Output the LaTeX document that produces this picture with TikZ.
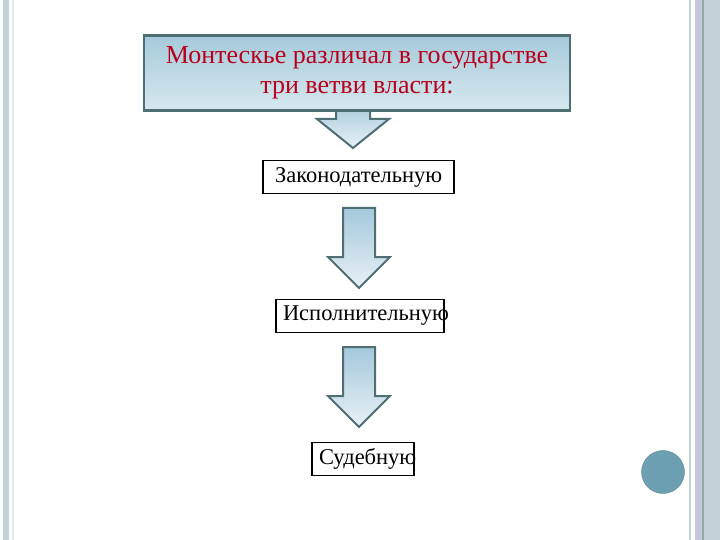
\documentclass[tikz,border=0pt]{standalone}
\usepackage{fontspec}
\setmainfont{Liberation Serif}
\usetikzlibrary{positioning, calc}

\definecolor{framegray}{HTML}{4F6F73}
\definecolor{boxtop}{HTML}{A6CADB}
\definecolor{boxbottom}{HTML}{D6E8EE}
\definecolor{arrowtop}{HTML}{A4C8DC}
\definecolor{arrowbottom}{HTML}{E8F1F5}
\definecolor{titlered}{HTML}{B8001C}
\definecolor{barblue}{HTML}{C2D2D8}
\definecolor{barlilac}{HTML}{C4CADA}
\definecolor{dotblue}{HTML}{6C9FB1}

% block arrow: centre x, top y, head y, tip y, shaft half, head half
\newcommand{\blockarrow}[6]{%
  \draw[downarrow] (#1-#5,#2) -- (#1+#5,#2) -- (#1+#5,#3) -- (#1+#6,#3)
    -- (#1,#4) -- (#1-#6,#3) -- (#1-#5,#3) -- cycle;}

\begin{document}
\begin{tikzpicture}[
      x=1pt, y=-1pt,
      title/.style={rectangle, draw=framegray, line width=2.5pt, top color=boxtop, bottom color=boxbottom,
        minimum width=426pt, minimum height=75pt, align=center, text=titlered,
        font=\fontsize{26}{30}\selectfont},
      branch/.style={rectangle, draw=black, line width=1.5pt, fill=white, inner sep=0pt,
        minimum height=33pt, align=left, font=\fontsize{22.5}{25}\selectfont},
      downarrow/.style={draw=framegray, line width=2pt, line join=miter, top color=arrowtop, bottom color=arrowbottom}
    ]
    \useasboundingbox (0,0) rectangle (720,540);

    % slide decoration
    \fill[barblue] (3,0) rectangle (9,540);
    \fill[barblue!50] (12,0) rectangle (13.5,540);
    \fill[barblue] (689,0) rectangle (691,540);
    \fill[barlilac] (695,0) rectangle (702,540);
    \fill[framegray!60] (702,0) rectangle (703.5,540);
    \fill[barblue] (703.5,0) rectangle (720,540);
    \node[circle, fill=dotblue, draw=dotblue!85!black, minimum size=43pt, inner sep=0pt] (dot) at (663,472) {};

    % arrows
    \blockarrow{353}{100}{119}{148}{17}{36}
    \blockarrow{359}{208}{257}{288}{16}{31}
    \blockarrow{359}{347}{396}{427}{16}{31}

    % boxes
    \node[title] (montesquieu) at (357,73) {Монтескье различал в государстве\\три ветви власти:};
    \node[branch, minimum width=191pt, text width=167pt] (legislative) at (358.5,177) {Законодательную};
    \node[branch, minimum width=168pt, text width=154pt] (executive) at (360,316) {Исполнительную};
    \node[branch, minimum width=102pt, text width=88pt] (judicial) at (363,459) {Судебную};
  \end{tikzpicture}
\end{document}
